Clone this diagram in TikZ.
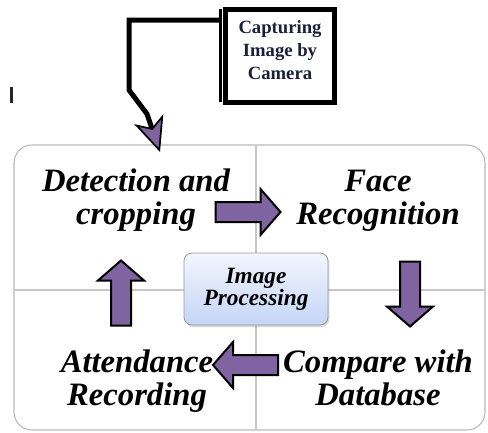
\documentclass[tikz,border=0pt]{standalone}
\usepackage{fontspec}
\setmainfont{Liberation Serif}
\usepackage{tikz}
\usetikzlibrary{arrows.meta, positioning, shadows}
\definecolor{arrowpurple}{HTML}{8064A2}
\definecolor{framegray}{gray}{0.72}
\definecolor{linegray}{gray}{0.78}
\definecolor{boxtop}{HTML}{F3F6FE}
\definecolor{boxbottom}{HTML}{C4D5F6}
\definecolor{camtext}{HTML}{1A1F3A}

\begin{document}
\begin{tikzpicture}[x=0.75pt, y=-0.75pt,
	stage label/.style={font=\fontsize{24.5}{25}\selectfont\bfseries\itshape, align=center},
	block arrow/.style={draw=black, line width=1.5pt, fill=arrowpurple, line join=miter},
	feed line/.style={line width=3.75pt, line join=miter,
		-{Stealth[length=26pt, width=23pt, inset=7pt, line width=1.3pt, fill=arrowpurple]}},
	divider/.style={linegray, line width=1.1pt}
]

\def \xw{488}
\def \xh{432}

\useasboundingbox (0,0) rectangle (\xw,\xh);

\draw[framegray, line width=0.8pt, rounded corners=13.5pt] (14,145) rectangle (485,430); % outer frame
\draw[divider] (256,145) -- (256,430); % vertical split
\draw[divider] (14,290) -- (485,290); % horizontal split

\draw[line width=2.25pt, black!85] (11,87) -- (11,103); % stray mark

\node[draw=gray!80, line width=0.6pt, rounded corners=6pt, top color=boxtop, bottom color=boxbottom,
	minimum width=108pt, minimum height=54pt, align=center,
	drop shadow={shadow xshift=1pt, shadow yshift=-1.5pt, opacity=0.3},
	font=\fontsize{17.5}{16.5}\selectfont\bfseries\itshape] (proc) at (256,289) {Image\\Processing};

\node[stage label] (detect)  at (136,200) {Detection and\\cropping};
\node[stage label] (face)    at (378,201) {Face\\Recognition};
\node[stage label] (compare) at (378,378) {Compare with\\Database};
\node[stage label] (attend)  at (137,381) {Attendance\\Recording};

\foreach \ax/\ay/\ang in {247.5/212/0, 410/293.5/-90, 246/365/180, 121/293.5/90} {
	\draw[block arrow, shift={(\ax,\ay)}, rotate=\ang]
		(-32,-10) -- (13,-10) -- (13,-23) -- (33,0) -- (13,23) -- (13,10) -- (-32,10) -- cycle; % step arrow
}

\node[draw, line width=3.75pt, minimum width=81.75pt, minimum height=69.75pt, align=center,
	text=camtext, text depth=9pt, font=\fontsize{14}{17.5}\selectfont\bfseries] (cap) at (280,56) {Capturing\\Image by\\Camera};

\draw[line width=2.25pt] ([shift={(-2.25pt,-1.5pt)}]cap.north west) -- ([shift={(-2.25pt,2.25pt)}]cap.south west); % side bar

\coordinate (link start) at ([shift={(-2.25pt,-9.75pt)}]cap.north west);
\coordinate (detect tip) at (160,152);

\draw[feed line] (link start) -| (129,90) -- (147,114) -- (detect tip);

\end{tikzpicture}
\end{document}
